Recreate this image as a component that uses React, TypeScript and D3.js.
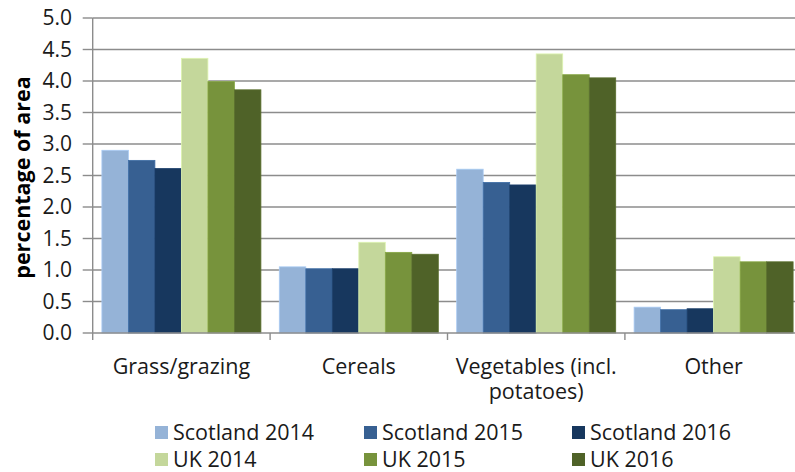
import React, { useEffect, useRef } from "react";
import * as d3 from "d3";

const categories = ["Grass/grazing", "Cereals", "Vegetables (incl. potatoes)", "Other"];
const categoryLines = [["Grass/grazing"], ["Cereals"], ["Vegetables (incl.", "potatoes)"], ["Other"]];
const seriesNames = ["Scotland 2014", "Scotland 2015", "Scotland 2016", "UK 2014", "UK 2015", "UK 2016"];
const seriesColors = ["#95B3D7", "#376092", "#17375E", "#C4D79B", "#77933C", "#4F6228"];
// values per series, one per category
const scotland2014 = [2.9, 1.05, 2.6, 0.41];
const scotland2015 = [2.74, 1.02, 2.39, 0.37];
const scotland2016 = [2.61, 1.02, 2.35, 0.385];
const uk2014 = [4.36, 1.44, 4.43, 1.21];
const uk2015 = [3.99, 1.28, 4.1, 1.13];
const uk2016 = [3.86, 1.25, 4.05, 1.13];
const yTicks = [0, 0.5, 1, 1.5, 2, 2.5, 3, 3.5, 4, 4.5, 5];

const seriesValues = [scotland2014, scotland2015, scotland2016, uk2014, uk2015, uk2016];

const W = 795;
const H = 472;
const FONT = "'Open Sans', sans-serif";

const App: React.FC = () => {
  const ref = useRef<SVGSVGElement | null>(null);

  useEffect(() => {
    if (!ref.current) return;
    const svg = d3.select(ref.current);
    svg.selectAll("*").remove();

    const left = 92.7;
    const right = 802.3; // plot runs past the picture's edge
    const top = 18;
    const bottom = 333;

    const x0 = d3.scaleBand<string>().domain(categories).range([left, right]).paddingInner(0).paddingOuter(0);
    const x1 = d3
      .scaleBand<string>()
      .domain(seriesNames)
      .range([0, x0.bandwidth()])
      .paddingInner(0)
      .paddingOuter(0.347);
    const y = d3.scaleLinear().domain([0, 5]).range([bottom, top]);

    svg.append("rect").attr("width", W).attr("height", H).attr("fill", "#fff");

    // gridlines
    svg
      .append("g")
      .selectAll("line")
      .data(yTicks.filter((t) => t > 0))
      .join("line")
      .attr("x1", left)
      .attr("x2", W)
      .attr("y1", (d) => y(d))
      .attr("y2", (d) => y(d))
      .attr("stroke", "#8c8c8c")
      .attr("stroke-width", 1.4);

    // bars
    const groups = svg
      .append("g")
      .selectAll("g")
      .data(categories)
      .join("g")
      .attr("transform", (d) => `translate(${x0(d)},0)`);

    groups
      .selectAll("rect")
      .data((_, ci) => seriesNames.map((s, si) => ({ s, si, v: seriesValues[si][ci] })))
      .join("rect")
      .attr("x", (d) => x1(d.s)!)
      .attr("width", x1.bandwidth())
      .attr("y", (d) => y(d.v))
      .attr("height", (d) => y(0) - y(d.v))
      .attr("fill", (d) => seriesColors[d.si])
      .attr("stroke", (d) => d3.color(seriesColors[d.si])!.brighter(0.35).formatHex())
      .attr("stroke-width", 0.8);

    // y axis
    const yAxis = svg.append("g");
    yAxis
      .append("line")
      .attr("x1", left)
      .attr("x2", left)
      .attr("y1", top)
      .attr("y2", bottom)
      .attr("stroke", "#8c8c8c")
      .attr("stroke-width", 1.4);
    yAxis
      .selectAll("line.tick")
      .data(yTicks)
      .join("line")
      .attr("class", "tick")
      .attr("x1", left - 10)
      .attr("x2", left)
      .attr("y1", (d) => y(d))
      .attr("y2", (d) => y(d))
      .attr("stroke", "#8c8c8c")
      .attr("stroke-width", 1.4);
    yAxis
      .selectAll("text")
      .data(yTicks)
      .join("text")
      .attr("x", 72)
      .attr("y", (d) => y(d))
      .attr("dy", "0.35em")
      .attr("text-anchor", "end")
      .attr("font-family", FONT)
      .attr("font-size", 21)
      .attr("fill", "#1a1a1a")
      .text((d) => d.toFixed(1));

    svg
      .append("text")
      .attr("transform", `translate(30,${(top + bottom) / 2 + 2}) rotate(-90)`)
      .attr("text-anchor", "middle")
      .attr("font-family", FONT)
      .attr("font-weight", "bold")
      .attr("font-size", 21.5)
      .attr("fill", "#000")
      .text("percentage of area");

    // x axis
    const xAxis = svg.append("g");
    xAxis
      .append("line")
      .attr("x1", left)
      .attr("x2", W)
      .attr("y1", bottom)
      .attr("y2", bottom)
      .attr("stroke", "#8c8c8c")
      .attr("stroke-width", 1.4);
    xAxis
      .selectAll("line.tick")
      .data(categories.map((c) => x0(c)!).concat([right]))
      .join("line")
      .attr("class", "tick")
      .attr("x1", (d) => d)
      .attr("x2", (d) => d)
      .attr("y1", bottom)
      .attr("y2", bottom + 7)
      .attr("stroke", "#8c8c8c")
      .attr("stroke-width", 1.4);
    const labels = xAxis
      .selectAll("text")
      .data(categories)
      .join("text")
      .attr("x", (d) => x0(d)! + x0.bandwidth() / 2)
      .attr("y", 374)
      .attr("text-anchor", "middle")
      .attr("font-family", FONT)
      .attr("font-size", 21.5)
      .attr("fill", "#1a1a1a");
    labels
      .selectAll("tspan")
      .data((_, i) => categoryLines[i])
      .join("tspan")
      .attr("x", function () {
        return (this.parentNode as SVGTextElement).getAttribute("x");
      })
      .attr("dy", (_, i) => (i === 0 ? 0 : 24.5))
      .text((d) => d);

    // legend
    const legendX = [155, 364, 572];
    const legendY = [432, 459];
    const legend = svg
      .append("g")
      .selectAll("g")
      .data(seriesNames)
      .join("g")
      .attr("transform", (_, i) => `translate(${legendX[i % 3]},${legendY[Math.floor(i / 3)]})`);
    legend
      .append("rect")
      .attr("x", 0)
      .attr("y", -6)
      .attr("width", 13)
      .attr("height", 13)
      .attr("fill", (_, i) => seriesColors[i]);
    legend
      .append("text")
      .attr("x", 18)
      .attr("y", 0)
      .attr("dy", "0.35em")
      .attr("font-family", FONT)
      .attr("font-size", 21.5)
      .attr("fill", "#1a1a1a")
      .text((d) => d);
  }, []);

  return (
    <svg
      ref={ref}
      width={W}
      height={H}
      style={{ position: "absolute", left: 0, top: 0, display: "block" }}
    ></svg>
  );
};

export default App;
